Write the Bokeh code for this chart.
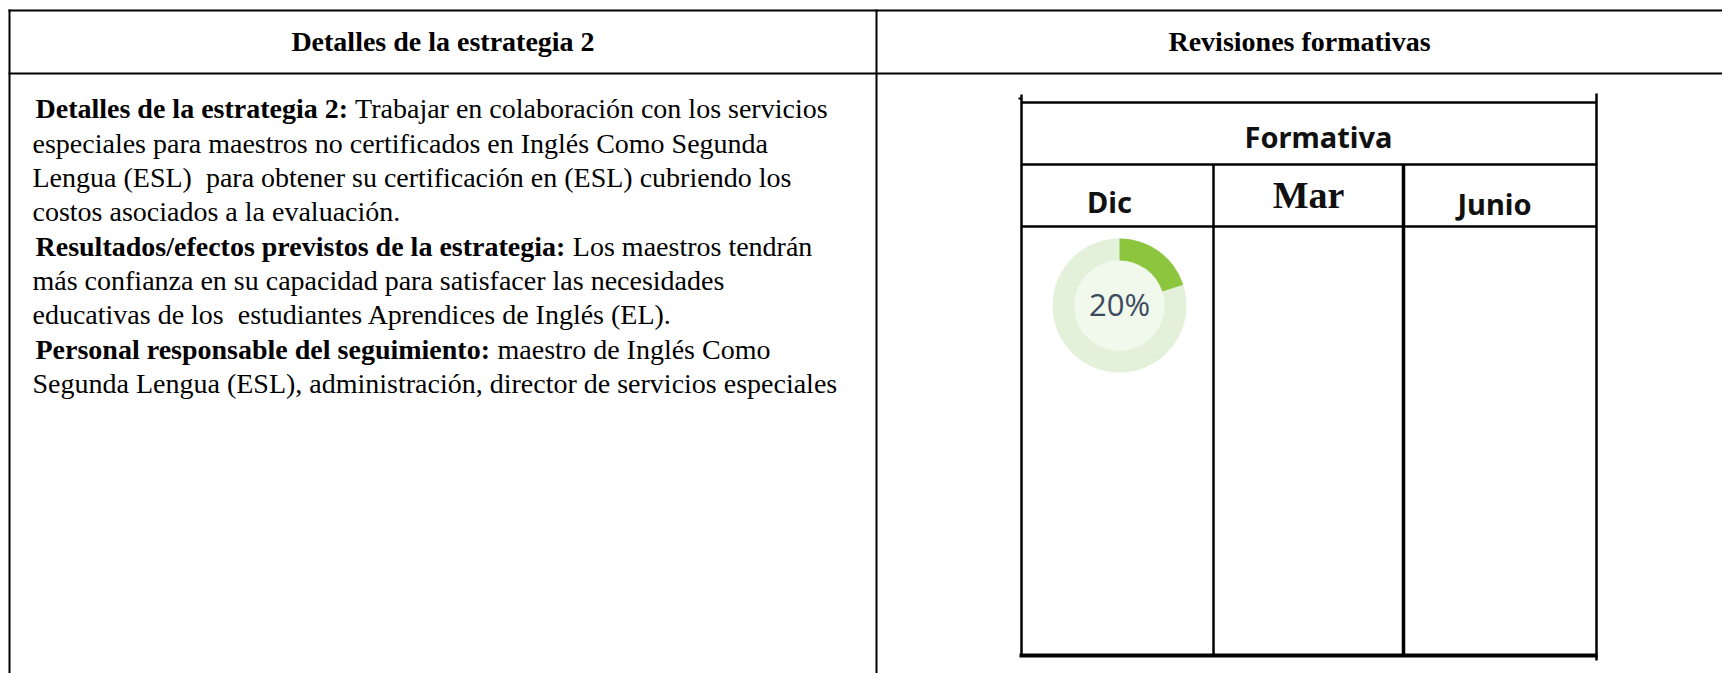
import math
from bokeh.plotting import figure
from bokeh.models import Range1d
from bokeh.core.properties import value
from bokeh.embed import file_html
from bokeh.resources import INLINE

# ---------------- data ----------------
column_titles = ["Detalles de la estrategia 2", "Revisiones formativas"]
review_group = "Formativa"
months = ["Dic", "Mar", "Junio"]
month_fonts = ["Noto Sans", "Liberation Serif", "Noto Sans"]
progress = [20, None, None]          # % complete shown per checkpoint

bold_parts = [
    "Detalles de la estrategia 2:",
    "",
    "",
    "",
    "Resultados/efectos previstos de la estrategia:",
    "",
    "",
    "Personal responsable del seguimiento:",
    "",
]
regular_parts = [
    "Trabajar en colaboración con los servicios",
    "especiales para maestros no certificados en Inglés Como Segunda",
    "Lengua (ESL) \u00a0para obtener su certificación en (ESL) cubriendo los",
    "costos asociados a la evaluación.",
    "Los maestros tendrán",
    "más confianza en su capacidad para satisfacer las necesidades",
    "educativas de los \u00a0estudiantes Aprendices de Inglés (EL).",
    "maestro de Inglés Como",
    "Segunda Lengua (ESL), administración, director de servicios especiales",
]

# ---------------- layout (page pixels, y measured downward) ----------------
W, H = 1722, 673
def fy(v):
    return H - v

def tb(v, size):
    # baseline compensation for the SVG text renderer
    return fy(v - 0.36 * size)

BODY_SIZE = 28
SERIF = "Liberation Serif"

# Times-Bold advance widths (1/1000 em) for measuring bold lead-ins
TB = {" ": 250, ":": 333, "/": 278, "2": 500, "D": 722, "R": 722, "P": 611,
      "a": 500, "b": 556, "c": 444, "d": 556, "e": 444, "f": 333, "g": 500,
      "i": 278, "l": 278, "m": 833, "n": 556, "o": 500, "p": 556, "r": 444,
      "s": 389, "t": 333, "u": 556, "v": 500}

def bold_width(s, size):
    return sum(TB.get(c, 500) for c in s) / 1000.0 * size

p = figure(width=W, height=H, output_backend="svg", toolbar_location=None,
           x_range=Range1d(0, W), y_range=Range1d(0, H),
           min_border=0, background_fill_color="white", border_fill_color="white")
p.axis.visible = False
p.grid.visible = False
p.outline_line_color = None

# ---------------- outer table ----------------
OL, OD, OT, OHD = 9, 876, 10, 73
p.segment(x0=[OL - 1, OL - 1], y0=[fy(OT), fy(OHD)], x1=[W, W], y1=[fy(OT), fy(OHD)],
          line_color="black", line_width=2)
p.segment(x0=[OL, OD], y0=[fy(OT - 1), fy(OT - 1)], x1=[OL, OD], y1=[0, 0],
          line_color="black", line_width=2)

title_x = [(OL + OD) / 2, (OD + 1722) / 2]
p.text(x=title_x, y=[tb(51, BODY_SIZE)] * 2, text=column_titles, text_align="center",
       text_baseline="alphabetic", text_font=value(SERIF), text_font_size=f"{BODY_SIZE}px",
       text_font_style="bold", text_color="black")

# ---------------- left column text ----------------
LINE0, LINE_H = 118.5, 34.3
bx, by, bt, rx, ry, rt = [], [], [], [], [], []
for i, (b, r) in enumerate(zip(bold_parts, regular_parts)):
    base = tb(LINE0 + i * LINE_H, BODY_SIZE)
    if b:
        x0 = 35
        bx.append(x0); by.append(base); bt.append(b)
        rx.append(x0 + bold_width(b + " ", BODY_SIZE)); ry.append(base); rt.append(r)
    else:
        rx.append(32); ry.append(base); rt.append(r)

p.text(x=bx, y=by, text=bt, text_align="left", text_baseline="alphabetic",
       text_font=value(SERIF), text_font_size=f"{BODY_SIZE}px", text_font_style="bold",
       text_color="black")
p.text(x=rx, y=ry, text=rt, text_align="left", text_baseline="alphabetic",
       text_font=value(SERIF), text_font_size=f"{BODY_SIZE}px", text_color="black")

# ---------------- inner "Formativa" table ----------------
IL, IR, IT, IF, IH, IB = 1021, 1596, 102, 164, 226, 655
col_edges = [IL, 1213, 1403, IR]
p.segment(x0=[IL] * 3, y0=[fy(IT), fy(IF), fy(IH)], x1=[IR] * 3, y1=[fy(IT), fy(IF), fy(IH)],
          line_color="black", line_width=2.5)
p.segment(x0=[1019], y0=[fy(IB)], x1=[IR + 1], y1=[fy(IB)], line_color="black", line_width=4)
p.segment(x0=[IL, IR], y0=[fy(94), fy(93)], x1=[IL, IR], y1=[fy(IB), fy(660)],
          line_color="black", line_width=2.5)
p.segment(x0=[IL - 3], y0=[fy(98)], x1=[IL], y1=[fy(98)], line_color="black", line_width=2)
p.segment(x0=col_edges[1:3], y0=[fy(IF)] * 2, x1=col_edges[1:3], y1=[fy(IB)] * 2,
          line_color="black", line_width=[2.5, 3.5])

p.text(x=[1318], y=[tb(146, 29)], text=[review_group], text_align="center",
       text_baseline="alphabetic", text_font=value("Noto Sans"), text_font_size="29px",
       text_font_style="bold", text_color="#111111")

month_x = [1109, 1308, 1494]
month_y = [211, 208, 213]
month_size = [29, 38, 29]
for mx, my, m, f, s in zip(month_x, month_y, months, month_fonts, month_size):
    p.text(x=[mx], y=[tb(my, s)], text=[m], text_align="center", text_baseline="alphabetic",
           text_font=value(f), text_font_size=f"{s}px", text_font_style="bold",
           text_color="#111111")

# ---------------- progress donuts ----------------
DONUT_Y = 305
donut_x = [1119, 1308, 1500]
for cx, val in zip(donut_x, progress):
    if val is None:
        continue
    p.annulus(x=[cx], y=[fy(DONUT_Y)], inner_radius=45, outer_radius=67,
              inner_radius_units="screen", outer_radius_units="screen",
              fill_color="#e3f0da", line_color=None)
    p.circle(x=[cx], y=[fy(DONUT_Y)], radius=45, radius_units="screen",
             fill_color="#f1f8ec", line_color=None)
    end = math.pi / 2
    start = end - val / 100.0 * 2 * math.pi
    p.annular_wedge(x=[cx], y=[fy(DONUT_Y)], inner_radius=45, outer_radius=67,
                    inner_radius_units="screen", outer_radius_units="screen",
                    start_angle=start, end_angle=end, direction="anticlock",
                    fill_color="#8cc63f", line_color=None)
    p.text(x=[cx], y=[tb(315, 31)], text=[f"{val}%"], text_align="center",
           text_baseline="alphabetic", text_font=value("Open Sans"), text_font_size="31px",
           text_color="#3e4a62")

open("out.html", "w").write(file_html(p, INLINE))
